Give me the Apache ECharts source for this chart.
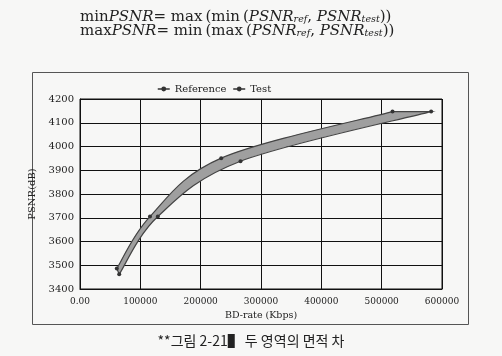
<!DOCTYPE html>
<html>
<head>
<meta charset="utf-8">
<script src="https://cdn.jsdelivr.net/npm/echarts@6/dist/echarts.min.js"></script>
<style>
  html, body { margin: 0; padding: 0; background: #f7f7f6; }
  #chart { width: 502px; height: 356px; }
</style>
</head>
<body>
<div id="chart"></div>
<script>
// ---- data ----
var refRate  = [61000, 116000, 234000, 518000];
var refPsnr  = [3486, 3705, 3951, 4147];
var testRate = [65000, 129000, 266000, 582000];
var testPsnr = [3462, 3705, 3938, 4147];
var seriesNames = ['Reference', 'Test'];
var xTicks = [0, 100000, 200000, 300000, 400000, 500000, 600000];
var yTicks = [3400, 3500, 3600, 3700, 3800, 3900, 4000, 4100, 4200];

function pairs(xs, ys) { return xs.map(function (x, i) { return [x, ys[i]]; }); }

// Catmull-Rom -> cubic bezier segments between pixel points
function segs(pts) {
  var out = [];
  for (var i = 0; i < pts.length - 1; i++) {
    var p0 = pts[i - 1] || pts[i], p1 = pts[i], p2 = pts[i + 1], p3 = pts[i + 2] || pts[i + 1];
    var c1 = [p1[0] + (p2[0] - p0[0]) / 6, p1[1] + (p2[1] - p0[1]) / 6];
    var c2 = [p2[0] - (p3[0] - p1[0]) / 6, p2[1] - (p3[1] - p1[1]) / 6];
    out.push([p1, c1, c2, p2]);
  }
  return out;
}
function f(p) { return p[0].toFixed(2) + ' ' + p[1].toFixed(2); }

var chart = echarts.init(document.getElementById('chart'));
var serif = 'DejaVu Serif';
var fRich = {
  r: { fontFamily: serif, fontSize: 15, lineHeight: 16, fill: '#222' },
  i: { fontFamily: serif, fontStyle: 'italic', fontSize: 15, lineHeight: 16, fill: '#222' },
  s: { fontFamily: serif, fontStyle: 'italic', fontSize: 9.5, lineHeight: 16, verticalAlign: 'bottom', fill: '#222', padding: [6, 0, 0, 0] }
};
var option = {
  backgroundColor: '#f7f7f6',
  animation: false,
  graphic: [
    { type: 'rect', shape: { x: 32.5, y: 72.5, width: 436, height: 252 }, style: { fill: 'none', stroke: '#555', lineWidth: 1 } },
    {
      type: 'text', left: 80, top: 9,
      style: {
        text: '{r|min}{i|PSNR}{r|= max\u2009(min\u2009(}{i|PSNR}{s|ref}{r|, }{i|PSNR}{s|test}{r|))}',
        rich: fRich
      }
    },
    {
      type: 'text', left: 80, top: 23,
      style: {
        text: '{r|max}{i|PSNR}{r|= min\u2009(max\u2009(}{i|PSNR}{s|ref}{r|, }{i|PSNR}{s|test}{r|))}',
        rich: fRich
      }
    },
    {
      type: 'text', left: 'center', top: 334,
      style: { text: '**그림 2-21▌ 두 영역의 면적 차', fontFamily: 'Noto Sans CJK KR', fontSize: 14, fill: '#222' }
    }
  ],
  legend: {
    data: seriesNames,
    top: 79, left: 152,
    itemWidth: 12, itemHeight: 6, itemGap: 6,
    textStyle: { fontFamily: serif, fontSize: 10, color: '#222' },
    lineStyle: { color: '#333', width: 1.5, opacity: 1 },
    itemStyle: { color: '#333' }
  },
  grid: { left: 80, right: 60, top: 99, bottom: 67, show: true, borderColor: '#111', borderWidth: 1 },
  xAxis: {
    type: 'value', min: xTicks[0], max: xTicks[xTicks.length - 1], interval: xTicks[1] - xTicks[0],
    name: 'BD-rate (Kbps)', nameLocation: 'middle', nameGap: 22,
    nameTextStyle: { fontFamily: serif, fontSize: 9.5, color: '#222' },
    axisLine: { lineStyle: { color: '#111' } },
    axisTick: { show: false },
    axisLabel: { fontFamily: serif, fontSize: 9, color: '#222', margin: 8,
      formatter: function (v) { return v === 0 ? '0.00' : String(v); } },
    splitLine: { show: true, lineStyle: { color: '#111', width: 1 } }
  },
  yAxis: {
    type: 'value', min: yTicks[0], max: yTicks[yTicks.length - 1], interval: yTicks[1] - yTicks[0],
    name: 'PSNR(dB)', nameLocation: 'middle', nameGap: 34, nameRotate: 90,
    nameTextStyle: { fontFamily: serif, fontSize: 10, color: '#222' },
    axisLine: { show: true, lineStyle: { color: '#111' } },
    axisTick: { show: false },
    axisLabel: { fontFamily: serif, fontSize: 10, color: '#222', margin: 6,
      formatter: function (v) { return String(v); } },
    splitLine: { show: true, lineStyle: { color: '#111', width: 1 } }
  },
  series: [
    {
      type: 'custom', name: 'band', coordinateSystem: 'cartesian2d', silent: true,
      data: [[refRate[0], refPsnr[0]]],
      renderItem: function (params, api) {
        var rp = pairs(refRate, refPsnr).map(function (d) { return api.coord(d); });
        var tp = pairs(testRate, testPsnr).map(function (d) { return api.coord(d); });
        var rs = segs(rp), ts = segs(tp);
        var refPath = 'M ' + f(rp[0]);
        rs.forEach(function (s) { refPath += ' C ' + f(s[1]) + ' ' + f(s[2]) + ' ' + f(s[3]); });
        var fill = refPath + ' L ' + f(tp[tp.length - 1]);
        for (var k = ts.length - 1; k >= 0; k--) {
          fill += ' C ' + f(ts[k][2]) + ' ' + f(ts[k][1]) + ' ' + f(ts[k][0]);
        }
        fill += ' Z';
        return {
          type: 'group',
          children: [
            { type: 'path', shape: { pathData: fill }, style: { fill: '#9f9f9f', stroke: '#444', lineWidth: 1.2 } }
          ]
        };
      },
      z: 2
    },
    {
      type: 'line', name: seriesNames[0], data: pairs(refRate, refPsnr),
      symbol: 'circle', symbolSize: 4, showSymbol: true,
      lineStyle: { opacity: 0 }, itemStyle: { color: '#333' }, z: 3
    },
    {
      type: 'line', name: seriesNames[1], data: pairs(testRate, testPsnr),
      symbol: 'circle', symbolSize: 4, showSymbol: true,
      lineStyle: { opacity: 0 }, itemStyle: { color: '#333' }, z: 3
    }
  ]
};
chart.setOption(option);
</script>
</body>
</html>
